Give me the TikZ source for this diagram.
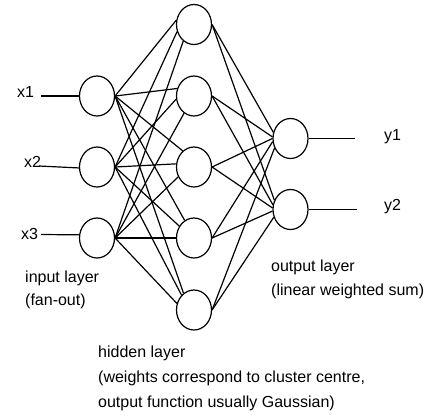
\documentclass[tikz,border=0pt]{standalone}
\usepackage{fontspec}
\setmainfont{Liberation Sans}
\usetikzlibrary{shapes.geometric}
\begin{document}
\begin{tikzpicture}[x=1pt,y=-1pt,
  neuron/.style={ellipse, draw, line width=1.2pt, minimum width=35pt, minimum height=40pt, inner sep=0pt},
  link/.style={line width=1.2pt},
  lbl/.style={inner sep=0pt, font=\fontsize{16}{24}\selectfont, align=left}]
\useasboundingbox (0,0) rectangle (424,416);
% input layer
\node[neuron] (i1) at (97,96) {};
\node[neuron] (i2) at (97,167) {};
\node[neuron] (i3) at (97,238) {};
% hidden layer
\node[neuron] (h1) at (194,24.5) {};
\node[neuron] (h2) at (194,96) {};
\node[neuron] (h3) at (194,167) {};
\node[neuron] (h4) at (194,238) {};
\node[neuron] (h5) at (194,310) {};
% output layer
\node[neuron] (o1) at (290.5,138.5) {};
\node[neuron] (o2) at (290.5,209.5) {};
% input labels and lines
\node[lbl, anchor=base west] (lx1) at (17,97) {x1};
\node[lbl, anchor=base west] (lx2) at (24,167) {x2};
\node[lbl, anchor=base west] (lx3) at (21,239) {x3};
\coordinate (c1) at (41,96);
\coordinate (c2) at (39,166);
\coordinate (c3) at (41,234.5);
\draw[link] (c1) -- (i1.west);
\draw[link] (c2) -- (i2.183);
\draw[link] (c3) -- (i3.170);
% output labels and lines
\coordinate (cy1) at (355,138.5);
\coordinate (cy2) at (357,209.5);
\draw[link] (o1.east) -- (cy1);
\draw[link] (o2.east) -- (cy2);
\node[lbl, anchor=base west] (ly1) at (384,140) {y1};
\node[lbl, anchor=base west] (ly2) at (384,210) {y2};
% input -> hidden
\foreach \s/\t/\a in {i1/h1/166, i2/h1/203, i3/h1/237,
                      i1/h2/156, i2/h2/190, i3/h2/240,
                      i1/h3/125, i2/h3/170, i3/h3/212,
                      i1/h4/118, i2/h4/141, i3/h4/180,
                      i1/h5/122, i2/h5/130, i3/h5/159}
  \draw[link] (\s.east) -- (\t.\a);
% hidden -> output
\foreach \s/\t/\a in {h1/o1/160, h2/o1/175, h3/o1/180, h4/o1/190, h5/o1/211,
                      h1/o2/150, h2/o2/165, h3/o2/175, h4/o2/185, h5/o2/205}
  \draw[link] (\s.east) -- (\t.\a);
% layer captions (base anchor = baseline of the last line)
\node[lbl, anchor=base west, font=\fontsize{16}{23}\selectfont] (tin) at (25,305) {input layer\\(fan-out)};
\node[lbl, anchor=base west] (tout) at (271,295) {output layer\\(linear weighted sum)};
\node[lbl, anchor=base west, font=\fontsize{16}{25}\selectfont] (thid) at (98,407) {hidden layer\\(weights correspond to cluster centre,\\output function usually Gaussian)};
\end{tikzpicture}
\end{document}
